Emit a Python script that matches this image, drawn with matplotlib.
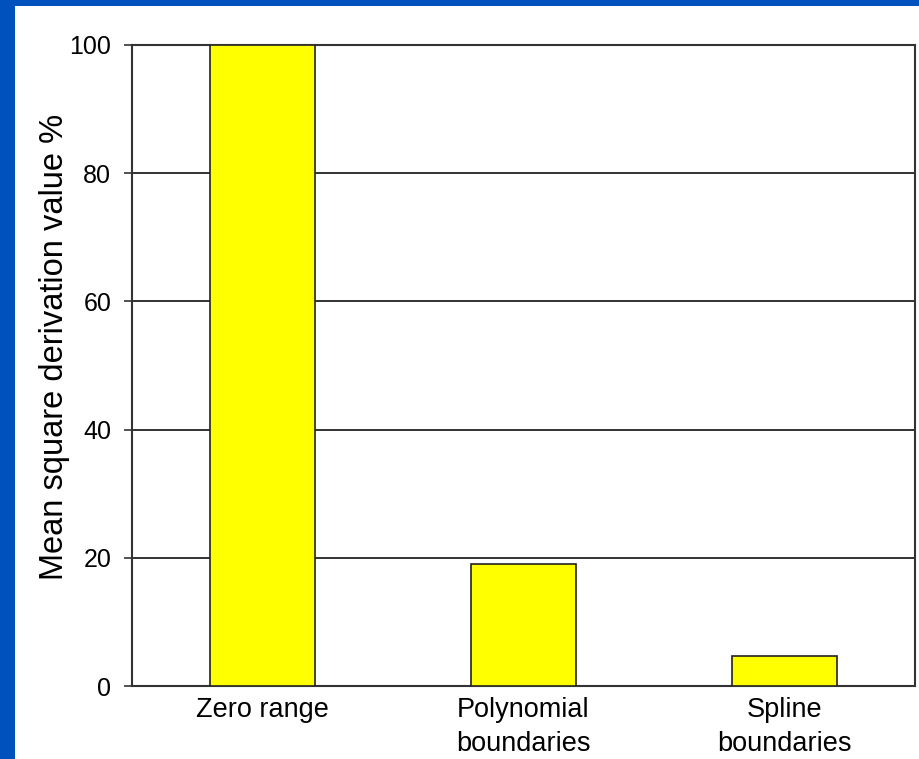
import matplotlib
matplotlib.use("Agg")
import matplotlib.pyplot as plt
from matplotlib.patches import Rectangle

categories = ["Zero range", "Polynomial\nboundaries", "Spline\nboundaries"]
values = [100, 19, 4.7]
yticks = [0, 20, 40, 60, 80, 100]
ylabel = "Mean square derivation value %"

plt.rcParams["font.family"] = ["Liberation Sans", "DejaVu Sans"]

W, H = 920, 759
fig = plt.figure(figsize=(W / 100, H / 100), dpi=100)
fig.patch.set_facecolor("white")

# Blue slide frame along the left and top edges
blue = "#0050BE"
fig.patches.append(Rectangle((0, 0), 15 / W, 1, transform=fig.transFigure,
                             facecolor=blue, edgecolor="none", zorder=0))
fig.patches.append(Rectangle((0, 1 - 6 / H), 1, 6 / H, transform=fig.transFigure,
                             facecolor=blue, edgecolor="none", zorder=0))

ax = fig.add_axes([132 / W, 1 - 686 / H, (915 - 132) / W, (686 - 45) / H])
x = range(len(categories))
ax.bar(x, values, width=0.4, color="#FFFF00", edgecolor="#222222",
       linewidth=1.2, zorder=3)

ax.set_xlim(-0.5, len(categories) - 0.5)
ax.set_ylim(0, 100)
ax.set_yticks(yticks)
ax.set_yticklabels([str(t) for t in yticks], fontsize=18)
ax.set_xticks(list(x))
ax.set_xticklabels(categories, fontsize=19.5, linespacing=1.38)
ax.tick_params(axis="x", length=0, pad=8)
ax.tick_params(axis="y", length=6, width=1.2, pad=9, color="#333333")

ax.yaxis.grid(True, color="#222222", linewidth=1.3, zorder=1)
ax.set_axisbelow(True)
for s in ax.spines.values():
    s.set_color("#333333")
    s.set_linewidth(1.5)

fig.text(55 / W, 1 - 347 / H, ylabel, rotation=90, ha="center", va="center",
         fontsize=23.5)

fig.savefig("out.png", dpi=100, facecolor=fig.get_facecolor())
